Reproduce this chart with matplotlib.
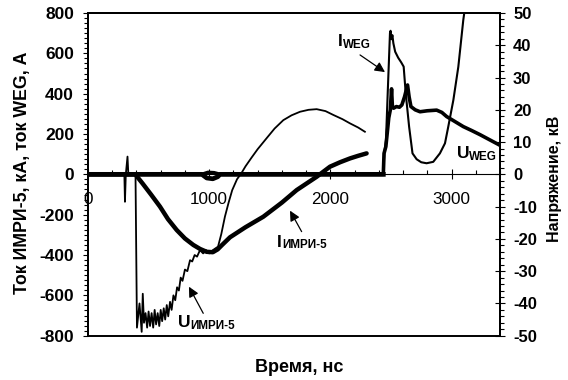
import matplotlib
matplotlib.use('Agg')
import matplotlib.pyplot as plt
from matplotlib.ticker import MultipleLocator

plt.rcParams['font.family'] = ['Liberation Sans', 'DejaVu Sans']
plt.rcParams['axes.unicode_minus'] = False

# ток ИМРИ-5, кА (левая ось)
t_i_imri = [0, 390, 450, 520, 594, 660, 732, 800, 869, 925,
            979, 1030, 1070, 1110, 1172, 1300, 1447, 1600, 1722, 1887,
            1997, 2080, 2162, 2230, 2299]
i_imri = [0, 0, -45, -100, -160, -222, -276, -318, -350, -370,
          -384, -386, -372, -348, -312, -262, -210, -140, -78, -12,
          38, 60, 79, 92, 104]

# напряжение ИМРИ-5, кВ (правая ось)
t_u_imri = [0, 300, 305, 312, 326, 333, 392, 404, 425, 443,
            452, 462, 475, 488, 500, 512, 525, 538, 550, 562,
            575, 588, 600, 612, 625, 637, 650, 662, 677, 690,
            705, 720, 735, 750, 765, 780, 800, 820, 842, 860,
            880, 900, 924, 950, 975, 1000, 1030, 1073, 1100, 1130,
            1160, 1190, 1230, 1265, 1300, 1350, 1400, 1474, 1540, 1612,
            1680, 1750, 1820, 1887, 1960, 2025, 2100, 2162, 2230, 2285]
u_imri = [0, 0, -8.5, 0, 5.5, 0, 0, -47.5, -40, -48.8,
          -37, -46, -43, -47.5, -42.5, -47, -43, -47.5, -42, -46.5,
          -43, -47, -42, -45.5, -41.5, -45, -40.5, -44, -39.5, -42,
          -37.5, -39, -35, -36, -32, -33, -29.5, -30, -26.6, -27,
          -25, -25.5, -23.5, -24.5, -23.5, -24.5, -23.5, -22.4, -18.5, -13.1,
          -8.8, -4.9, -1.5, 0.3, 2.5, 5.2, 7.8, 11.2, 14.2, 16.8,
          18.3, 19.4, 20.0, 20.2, 19.6, 18.4, 17.1, 15.8, 14.5, 13.2]

# ток WEG, А (левая ось)
t_i_weg = [0, 940, 980, 1030, 1070, 1090, 2437, 2445, 2459, 2475,
           2492, 2497, 2505, 2512, 2520, 2535, 2560, 2585, 2605, 2622,
           2650, 2678, 2712, 2750, 2794, 2849, 2904, 2946, 2973, 3015,
           3056, 3097, 3112]
i_weg = [0, 0, -18, -22, -12, 0, 0, 104, 170, 430,
         700, 712, 670, 690, 650, 608, 578, 555, 534, 402,
         236, 104, 75, 60, 55, 62, 104, 154, 236, 368,
         533, 765, 830]

# напряжение WEG, кВ (правая ось)
t_u_weg = [0, 940, 990, 1040, 1090, 2437, 2443, 2458, 2470, 2482,
           2495, 2505, 2512, 2522, 2545, 2570, 2590, 2612, 2637, 2650,
           2665, 2700, 2740, 2800, 2877, 2920, 2960, 3000, 3097, 3165,
           3235, 3310, 3390]
u_weg = [0, 0, 0.6, 0.5, 0, 0, 6.5, 8.6, 13, 17.5,
         20, 26.5, 21, 20.5, 21, 20.8, 21.5, 24, 27.7, 24,
         21, 20, 19.4, 19.7, 19.9, 19.2, 17.9, 17.0, 14.8, 13.6,
         12.3, 10.8, 9.2]

fig = plt.figure(figsize=(5.68, 3.80), dpi=100)
ax = fig.add_axes([88 / 568, 44.3 / 380, 412 / 568, 322.7 / 380])
ax2 = ax.twinx()

# нулевая линия до срабатывания WEG - толстая (шум)
n0 = t_i_weg.index(2437) + 1
ax.plot(t_i_weg[:n0], i_weg[:n0], color='k', lw=3.4)
ax.plot(t_i_weg, i_weg, color='k', lw=1.5)
ax.plot(t_i_imri, i_imri, color='k', lw=3.2, solid_capstyle='round')
ax2.plot(t_u_weg, u_weg, color='k', lw=2.6)
ax2.plot(t_u_imri, u_imri, color='k', lw=1.3)

ax.set_xlim(0, 3400)
ax.set_ylim(-800, 800)
ax2.set_ylim(-50, 50)

ax.spines['bottom'].set_position(('data', 0))
ax.spines['bottom'].set_linewidth(0.8)
for s in ['left', 'top', 'right']:
    ax.spines[s].set_linewidth(1.4)
for s in ax2.spines.values():
    s.set_linewidth(1.4)

ax.xaxis.set_major_locator(MultipleLocator(1000))
ax.xaxis.set_minor_locator(MultipleLocator(200))
ax.yaxis.set_major_locator(MultipleLocator(200))
ax.yaxis.set_minor_locator(MultipleLocator(25))
ax2.yaxis.set_major_locator(MultipleLocator(10))
ax2.yaxis.set_minor_locator(MultipleLocator(2))

ax.tick_params(axis='x', which='major', direction='inout', length=7.2, width=0.8, pad=9, labelsize=12.3)
ax.tick_params(axis='x', which='minor', direction='in', length=3.2, width=0.8)
ax.tick_params(axis='y', which='major', direction='out', length=3.6, width=0.8, pad=6.4, labelsize=12.5)
ax.tick_params(axis='y', which='minor', direction='out', length=2.9, width=0.8)
ax2.tick_params(axis='y', which='major', direction='inout', length=7.2, width=0.8, pad=5.8, labelsize=12)
ax2.tick_params(axis='y', which='minor', direction='out', length=2.9, width=0.8)
plt.setp(ax.get_yticklabels(), fontweight='bold')
plt.setp(ax2.get_yticklabels(), fontweight='bold')

fig.text(23 / 568, 1 - 172.5 / 380, 'Ток ИМРИ-5, кА, ток WEG, А', rotation=90,
         ha='center', va='center', fontsize=12.8, fontweight='bold')
fig.text(554 / 568, 1 - 178.5 / 380, 'Напряжение, кВ', rotation=90,
         ha='center', va='center', fontsize=11.5, fontweight='bold')
fig.text(299 / 568, 1 - 368 / 380, 'Время, нс', ha='center', va='center',
         fontsize=13, fontweight='bold')


def sub_label(x, y, main, sub, dx):
    ax.text(x, y, main, fontsize=12.5, fontweight='bold', va='baseline')
    ax.annotate(sub, (x, y), xytext=(dx, -1.2), textcoords='offset points',
                fontsize=8.4, fontweight='bold', va='baseline')


arrow = dict(arrowstyle='-|>', color='k', lw=0.9, mutation_scale=15, shrinkA=0, shrinkB=0)
ax.annotate('', xy=(2451, 507), xytext=(2245, 592), arrowprops=arrow)
ax.annotate('', xy=(1667, -180), xytext=(1763, -284), arrowprops=arrow)
ax.annotate('', xy=(833, -557), xytext=(951, -689), arrowprops=arrow)

sub_label(2063, 636, 'I', 'WEG', 3.8)
sub_label(3043, 80, 'U', 'WEG', 8.5)
sub_label(1557, -359, 'I', 'ИМРИ-5', 3.8)
sub_label(739, -759, 'U', 'ИМРИ-5', 9)

fig.savefig('out.png', dpi=100)
